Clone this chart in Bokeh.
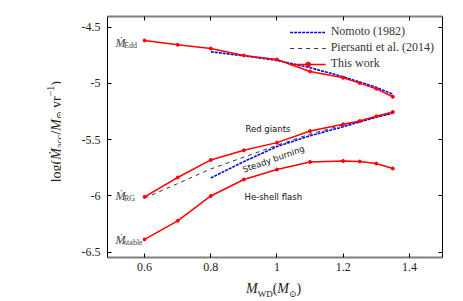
from bokeh.plotting import figure
from bokeh.layouts import row, column
from bokeh.models import (Range1d, FixedTicker, Label, Legend, LegendItem, LinearAxis,
                          NumeralTickFormatter, CustomLabelingPolicy, Div)
from bokeh.embed import file_html
from bokeh.resources import INLINE

# ---- data ----
mass = [0.6, 0.7, 0.8, 0.9, 1.0, 1.1, 1.2, 1.25, 1.3, 1.35]
edd = [-4.618, -4.657, -4.689, -4.751, -4.787, -4.894, -4.949, -4.997, -5.047, -5.118]
rg = [-6.008, -5.836, -5.680, -5.594, -5.526, -5.423, -5.363, -5.334, -5.292, -5.254]
stable = [-6.386, -6.221, -6.000, -5.854, -5.765, -5.698, -5.689, -5.694, -5.712, -5.756]

nom_mass = [0.8, 0.9, 1.0, 1.1, 1.2, 1.3, 1.35]
nom_upper = [-4.718, -4.755, -4.795, -4.860, -4.940, -5.035, -5.095]
nom_lower = [-5.840, -5.695, -5.560, -5.465, -5.385, -5.300, -5.265]

pier_mass = [0.6, 0.7, 0.8, 0.9, 1.0, 1.1, 1.2, 1.3, 1.35]
pier = [-6.02, -5.89, -5.76, -5.655, -5.55, -5.45, -5.37, -5.30, -5.26]

x_ticks = [0.6, 0.8, 1.0, 1.2, 1.4]
y_ticks = [-6.5, -6.0, -5.5, -5.0, -4.5]

SERIF = "'Liberation Serif', 'DejaVu Serif', serif"
SANS = "DejaVu Sans"
TXT = "#222222"

X0, X1, Y0, Y1 = 0.488, 1.5, -6.547, -4.405
YW = 60                      # width of the y-title column
FW, FH = 335, 241
L, R, T, B = 47, 13, 16, 22
XH = 21                      # height of the x-title row
PW, PH = L + FW + R, T + FH + B
FL_PAGE, FT_PAGE = YW + L, T

p = figure(width=PW, height=PH, output_backend="svg", toolbar_location=None,
           x_range=Range1d(X0, X1), y_range=Range1d(Y0, Y1),
           min_border_left=L, min_border_right=R, min_border_top=T, min_border_bottom=B)
p.xgrid.visible = False
p.ygrid.visible = False
p.outline_line_color = None

def style_axis(ax, ticks, color, width, labels=True):
    ax.ticker = FixedTicker(ticks=ticks)
    ax.formatter = NumeralTickFormatter(format="0.[0]")
    ax.major_tick_in = 4
    ax.major_tick_out = 0
    ax.minor_tick_line_color = None
    ax.axis_line_color = color
    ax.axis_line_width = width
    ax.major_tick_line_color = "black"
    ax.major_label_text_font = SERIF
    ax.major_label_text_font_size = "12px"
    ax.major_label_text_color = TXT
    if not labels:
        ax.major_label_text_font_size = "1px"
        ax.major_label_policy = CustomLabelingPolicy(code="if (false) yield 0")
        ax.major_label_standoff = 0

style_axis(p.xaxis[0], x_ticks, "#808080", 2)
p.xaxis[0].major_label_standoff = 5
style_axis(p.yaxis[0], y_ticks, "black", 1)
p.yaxis[0].major_label_standoff = 7

top = LinearAxis()
style_axis(top, x_ticks, "#808080", 2, labels=False)
p.add_layout(top, "above")
right = LinearAxis()
style_axis(right, y_ticks, "black", 1, labels=False)
p.add_layout(right, "right")

# page pixel -> data helpers, used only to place in-plot texts
def dx(px):
    return X0 + (px - FL_PAGE) / FW * (X1 - X0)

def dy(py):
    return Y1 - (py - FT_PAGE) / FH * (Y1 - Y0)

# ---- glyphs ----
nom1 = p.line(nom_mass, nom_upper, line_color="blue", line_width=1.6, line_dash="3 1")
nom2 = p.line(nom_mass, nom_lower, line_color="blue", line_width=1.6, line_dash="3 1")
pr = p.line(pier_mass, pier, line_color="#333333", line_width=1, line_dash="4 4")

red = "#ff0000"
tw = []
for ys in (edd, rg, stable):
    l = p.line(mass, ys, line_color=red, line_width=1.5)
    s = p.scatter(mass, ys, size=3, fill_color=red, line_color=red)
    tw.append((l, s))

legend = Legend(items=[
    LegendItem(label="Nomoto (1982)", renderers=[nom1]),
    LegendItem(label="Piersanti et al. (2014)", renderers=[pr]),
    LegendItem(label="This work", renderers=[tw[0][0], tw[0][1]]),
], location="top_right")
legend.background_fill_alpha = 0
legend.border_line_color = None
legend.label_text_font = SERIF
legend.label_text_font_size = "12px"
legend.label_text_color = "#333333"
legend.glyph_width = 36
legend.glyph_height = 12
legend.label_height = 12
legend.spacing = 1
legend.padding = 4
legend.margin = 8
p.add_layout(legend)

def lab(text, px, py, size, style="normal", angle=0.0, align="left", font=SERIF, color=TXT):
    p.add_layout(Label(x=dx(px), y=dy(py), text=text, text_font=font,
                       text_font_style=style, text_font_size=size, text_color=color,
                       text_baseline="middle", text_align=align, angle=angle))

# ---- in-plot labels ----
def mdot(px, py, sub):
    lab("Ṁ", px, py, "12px", "italic", color="#444444")
    lab(sub, px + 8.5, py + 3, "8px", color="#444444")

mdot(115, 42, "Edd")
mdot(115, 195, "RG")
mdot(115, 239, "stable")

lab("Red giants", 245, 128, "8.5px", font=SANS, color="#111111")
lab("He-shell flash", 244, 196, "8.5px", font=SANS, color="#111111")
lab("Steady burning", 273, 158.5, "8.5px", angle=0.34, align="center", font=SANS, color="#111111")

# ---- axis titles as HTML text (sub/superscripts) ----
font_css = "font-family:'Liberation Serif','DejaVu Serif',serif;font-size:14px;color:#222;line-height:1;"
y_title = ("<div style='width:%dpx;height:%dpx;display:flex;align-items:center;justify-content:flex-start;"
           "padding-left:46px;box-sizing:border-box;'>"
           "<div style=\"writing-mode:vertical-rl;transform:rotate(180deg);%s\">"
           "log(<i>Ṁ</i><sub style='font-size:10px'>acc</sub>/<i>M</i><sub style='font-size:10px'>⊙</sub>"
           "&thinsp;yr<sup style='font-size:10px'>−1</sup>)</div></div>") % (YW, 2 * 132, font_css)
x_title = ("<div style=\"padding-left:%dpx;padding-top:3px;white-space:nowrap;%s\">"
           "<i>M</i><sub style='font-size:9px'>WD</sub>(<i>M</i><sub style='font-size:9px'>⊙</sub>)</div>") % (
    246 - YW, font_css)

ydiv = Div(text=y_title, width=YW, height=PH + XH, margin=0)
xdiv = Div(text=x_title, width=PW, height=XH, margin=0)

layout = row(ydiv, column(p, xdiv, spacing=0), spacing=0)
open("out.html", "w").write(file_html(layout, INLINE))
